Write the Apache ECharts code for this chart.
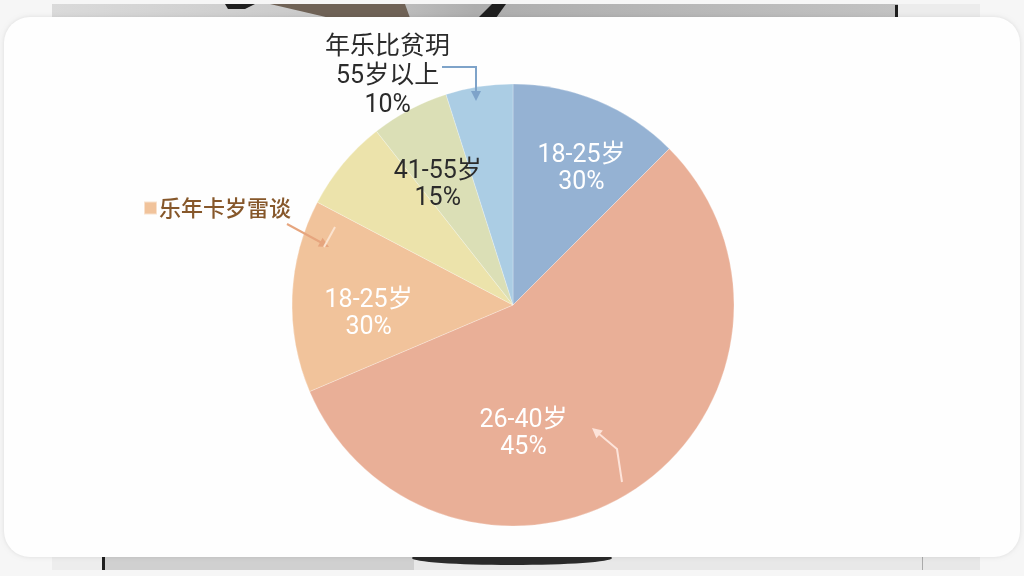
<!DOCTYPE html>
<html><head><meta charset="utf-8">
<script src="https://cdn.jsdelivr.net/npm/echarts@6/dist/echarts.min.js"></script>
<style>html,body{margin:0;padding:0;background:#f6f6f6}#c{width:1024px;height:576px}</style>
</head><body><div id="c"></div>
<script>
// slice names (legend) and label texts
const names = ['18-25岁', '26-40岁', '乐年卡岁雷谈', '41-55岁', '其他', '55岁以上'];
const labelTexts = ['18-25岁\n30%', '26-40岁\n45%', '18-25岁\n30%', '41-55岁\n15%', '', '年乐比贫玥\n55岁以上\n10%'];
const values = [12.5, 56.1, 14.1, 6.7, 5.7, 4.9];
const colors = ['#95b2d3', '#e9af97', '#f1c39b', '#ece3ab', '#dbdfb6', '#abcde4'];
const labelColors = ['#ffffff', '#ffffff', '#ffffff', '#2b2b2b', '#2b2b2b', '#2b2b2b'];
const labelOffsets = [[25, -31], [-53, 35], [-31, 14], [12, -47], [0, 0], [-108, -116]];

const chart = echarts.init(document.getElementById('c'), null, {renderer: 'canvas'});
const data = names.map((n, i) => ({
  name: n, value: values[i],
  itemStyle: {color: colors[i]},
  label: {show: labelTexts[i] !== '', formatter: labelTexts[i], color: labelColors[i], offset: labelOffsets[i],
          lineHeight: i === 5 ? 29 : 27}
}));
const arrowHead = (x, y, dx, dy, col) => ({
  type: 'polygon', z: 10,
  shape: {points: [[0, 0], [-10, -5], [-10, 5]]},
  x: x, y: y, rotation: -Math.atan2(dy, dx),
  style: {fill: col}
});
chart.setOption({
  backgroundColor: '#f6f6f6',
  animation: false,
  graphic: [
    // top photo strip
    {type: 'rect', z: -5, shape: {x: 52, y: 4, width: 846, height: 14}, style: {fill: new echarts.graphic.LinearGradient(0, 0, 1, 0, [{offset: 0, color: '#dadada'}, {offset: 0.35, color: '#c8c8c8'}, {offset: 0.5, color: '#adadad'}, {offset: 1, color: '#c2c2c2'}])}},
    {type: 'rect', z: -5, shape: {x: 898, y: 4, width: 82, height: 14}, style: {fill: '#ececec'}},
    {type: 'polygon', z: -4, shape: {points: [[270, 4], [405, 4], [410, 18], [330, 18]]}, style: {fill: '#6f6256'}},
    {type: 'polygon', z: -4, shape: {points: [[225, 4], [255, 4], [245, 9], [228, 9]]}, style: {fill: '#1e1e1e'}},
    {type: 'polygon', z: -4, shape: {points: [[492, 4], [506, 4], [496, 18], [478, 18]]}, style: {fill: '#1e1e1e'}},
    {type: 'rect', z: -4, shape: {x: 895, y: 5, width: 3, height: 13}, style: {fill: '#1e1e1e'}},
    // bottom photo strip
    {type: 'rect', z: -5, shape: {x: 52, y: 557, width: 52, height: 13}, style: {fill: '#ededed'}},
    {type: 'rect', z: -5, shape: {x: 104, y: 557, width: 310, height: 13}, style: {fill: '#d0d0d0'}},
    {type: 'rect', z: -5, shape: {x: 414, y: 557, width: 566, height: 13}, style: {fill: '#e8e8e8'}},
    {type: 'rect', z: -4, shape: {x: 102, y: 557, width: 3, height: 13}, style: {fill: '#1e1e1e'}},
    {type: 'rect', z: -4, shape: {x: 922, y: 557, width: 1, height: 13}, style: {fill: '#aaa'}},
    {type: 'ellipse', z: -4, shape: {cx: 512, cy: 558, rx: 100, ry: 7}, style: {fill: '#2a2a2a'}},
    // white card
    {type: 'rect', z: -3, shape: {x: 4, y: 17, width: 1016, height: 540, r: 26}, style: {fill: '#fefefe', shadowBlur: 4, shadowColor: 'rgba(0,0,0,0.10)'}},
    // light blue callout
    {type: 'polyline', z: 10, shape: {points: [[442, 67], [476, 67], [476, 92]]}, style: {stroke: '#7ea3c9', lineWidth: 2, fill: null}},
    arrowHead(476, 101, 0, 1, '#7ea3c9'),
    // legend arrow to orange slice
    {type: 'line', z: 10, shape: {x1: 287, y1: 224, x2: 322, y2: 243}, style: {stroke: '#e6a57e', lineWidth: 2}},
    arrowHead(329, 247, 35, 19, '#e6a57e'),
    {type: 'line', z: 10, shape: {x1: 335, y1: 227, x2: 324, y2: 247}, style: {stroke: '#fbe3cf', lineWidth: 2}},
    // salmon arrow
    {type: 'polyline', z: 10, shape: {points: [[622, 482], [617, 449], [598, 433]]}, style: {stroke: '#fde3d9', lineWidth: 2, fill: null}},
    arrowHead(592, 428, -19, -16, '#fde3d9')
  ],
  legend: {
    data: ['乐年卡岁雷谈'], left: 138, top: 192, icon: 'rect', itemWidth: 13, itemHeight: 13, itemGap: 2,
    selectedMode: false,
    textStyle: {color: '#86572a', fontSize: 22, fontWeight: 500, fontFamily: 'Noto Sans CJK SC', padding: [0, 0, 0, -3]}
  },
  series: [{
    type: 'pie', center: [513, 305], radius: [0, 221], startAngle: 90, clockwise: true,
    avoidLabelOverlap: false, silent: true,
    itemStyle: {borderColor: 'rgba(255,255,255,0.5)', borderWidth: 0.5},
    label: {position: 'inside', fontSize: 25, lineHeight: 27, fontFamily: 'Roboto, "Noto Sans CJK SC"', align: 'center'},
    labelLine: {show: false},
    data: data
  }]
});
</script></body></html>
